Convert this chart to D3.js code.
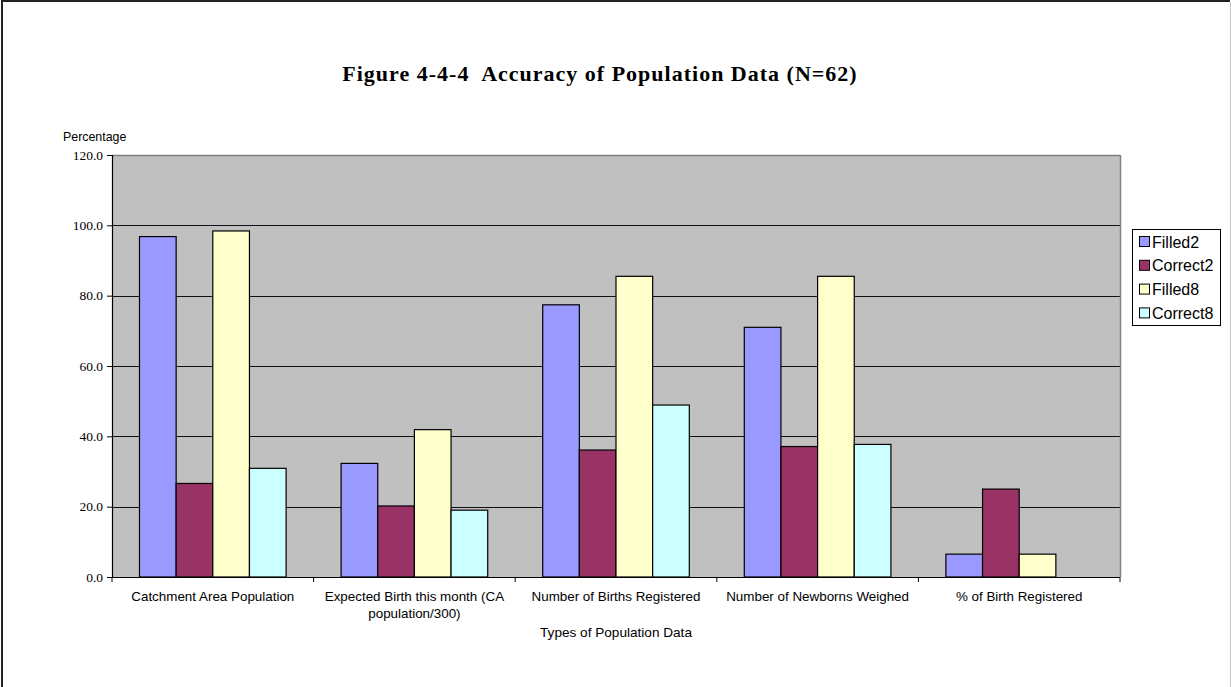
<!DOCTYPE html>
<html>
<head>
<meta charset="utf-8">
<script src="https://cdn.jsdelivr.net/npm/d3@7"></script>
<style>
  html, body { margin: 0; padding: 0; background: #fff; }
  svg { display: block; }
</style>
</head>
<body>
<svg id="chart" width="1231" height="687"></svg>
<script>
// Population data types and the share (%) of facilities reporting each
const categories = [
  ["Catchment Area Population"],
  ["Expected Birth this month (CA", "population/300)"],
  ["Number of Births Registered"],
  ["Number of Newborns Weighed"],
  ["% of Birth Registered"]
];
const seriesNames = ["Filled2", "Correct2", "Filled8", "Correct8"];
const filled2  = [96.8, 32.3, 77.4, 71.0, 6.5];
const correct2 = [26.6, 20.2, 36.1, 37.1, 25.0];
const filled8  = [98.4, 41.9, 85.5, 85.5, 6.5];
const correct8 = [30.9, 19.0, 48.9, 37.7, 0.0];
const seriesColors = ["#9999FF", "#993366", "#FFFFCC", "#CCFFFF"];
const yTicks = [0, 20, 40, 60, 80, 100, 120];

const values = [filled2, correct2, filled8, correct8];
const svg = d3.select("#chart");

// frame around the whole chart
svg.append("line").attr("x1", 2).attr("y1", 0).attr("x2", 2).attr("y2", 687)
  .attr("stroke", "#222").attr("stroke-width", 2);
svg.append("line").attr("x1", 1).attr("y1", 1).attr("x2", 1230).attr("y2", 1)
  .attr("stroke", "#222").attr("stroke-width", 2);
svg.append("line").attr("x1", 1230.5).attr("y1", 2).attr("x2", 1230.5).attr("y2", 687)
  .attr("stroke", "#c8c8c8").attr("stroke-width", 1);

const plot = { left: 112, right: 1120, top: 155, bottom: 577 };

const x0 = d3.scaleBand()
  .domain(d3.range(categories.length))
  .range([plot.left, plot.right]);
const bandW = x0.bandwidth();
// four bars per group with a 150% gap split on both sides
const barW = bandW / (seriesNames.length + 1.5);
const x1 = d3.scaleBand()
  .domain(d3.range(seriesNames.length))
  .range([barW * 0.75, bandW - barW * 0.75])
  .padding(0);

const y = d3.scaleLinear().domain([0, 120]).range([plot.bottom, plot.top]);

// plot background
svg.append("rect")
  .attr("x", plot.left).attr("y", plot.top)
  .attr("width", plot.right - plot.left).attr("height", plot.bottom - plot.top)
  .attr("fill", "#C0C0C0");

// gridlines
svg.append("g").selectAll("line")
  .data(yTicks.filter(t => t > 0 && t < 120))
  .join("line")
  .attr("x1", plot.left).attr("x2", plot.right)
  .attr("y1", d => Math.round(y(d)) + 0.5).attr("y2", d => Math.round(y(d)) + 0.5)
  .attr("stroke", "#111").attr("stroke-width", 1);

// top and right edges of plot area
svg.append("line").attr("x1", plot.left).attr("x2", plot.right)
  .attr("y1", plot.top + 0.5).attr("y2", plot.top + 0.5)
  .attr("stroke", "#808080").attr("stroke-width", 1.5);
svg.append("line").attr("x1", plot.right + 0.5).attr("x2", plot.right + 0.5)
  .attr("y1", plot.top).attr("y2", plot.bottom)
  .attr("stroke", "#808080").attr("stroke-width", 1.5);

// bars
const groups = svg.append("g").selectAll("g")
  .data(categories.map((c, i) => i))
  .join("g")
  .attr("transform", i => `translate(${x0(i)},0)`);

groups.selectAll("rect")
  .data(i => values.map((s, k) => ({ k, v: s[i] })).filter(d => d.v > 0))
  .join("rect")
  .attr("x", d => x1(d.k))
  .attr("y", d => y(d.v))
  .attr("width", x1.bandwidth())
  .attr("height", d => y(0) - y(d.v))
  .attr("fill", d => seriesColors[d.k])
  .attr("stroke", "#000")
  .attr("stroke-width", 1.2);

// y axis
const yAxis = d3.axisLeft(y).tickValues(yTicks).tickSize(5).tickFormat(d3.format(".1f"));
const gy = svg.append("g").attr("transform", `translate(${plot.left},0)`).call(yAxis);
gy.select(".domain").attr("stroke", "#000").attr("stroke-width", 1.2);
gy.selectAll(".tick line").attr("stroke", "#000");
gy.selectAll(".tick text")
  .attr("font-family", "'Liberation Serif', 'Times New Roman', serif")
  .attr("font-size", 13.5).attr("fill", "#000").attr("x", -9);

// x axis with ticks at category boundaries
const gx = svg.append("g").attr("transform", `translate(0,${plot.bottom})`);
gx.append("line").attr("x1", plot.left - 5).attr("x2", plot.right)
  .attr("y1", 0.5).attr("y2", 0.5).attr("stroke", "#000").attr("stroke-width", 1.2);
gx.selectAll("line.tk")
  .data(d3.range(categories.length + 1))
  .join("line").attr("class", "tk")
  .attr("x1", i => plot.left + i * bandW).attr("x2", i => plot.left + i * bandW)
  .attr("y1", 0).attr("y2", 5).attr("stroke", "#000");

const catLabels = svg.append("g").selectAll("text")
  .data(categories.map((c, i) => ({ c, i })))
  .join("text")
  .attr("x", d => x0(d.i) + bandW / 2)
  .attr("y", 601)
  .attr("text-anchor", "middle")
  .attr("font-family", "'Liberation Sans', Arial, sans-serif")
  .attr("font-size", 13.4)
  .attr("fill", "#000");
catLabels.selectAll("tspan")
  .data(d => d.c.map(line => ({ line, x: x0(d.i) + bandW / 2 })))
  .join("tspan")
  .attr("x", d => d.x)
  .attr("dy", (d, j) => j === 0 ? 0 : 16.5)
  .text(d => d.line);

// axis titles
svg.append("text")
  .attr("x", (plot.left + plot.right) / 2).attr("y", 637)
  .attr("text-anchor", "middle")
  .attr("font-family", "'Liberation Sans', Arial, sans-serif")
  .attr("font-size", 13.6)
  .text("Types of Population Data");

svg.append("text")
  .attr("x", 63).attr("y", 141)
  .attr("font-family", "'Liberation Sans', Arial, sans-serif")
  .attr("font-size", 12.4)
  .text("Percentage");

// chart title
svg.append("text")
  .attr("x", 600).attr("y", 81)
  .attr("text-anchor", "middle")
  .attr("font-family", "'Liberation Serif', 'Times New Roman', serif")
  .attr("font-size", 22).attr("font-weight", "bold")
  .attr("letter-spacing", 1)
  .attr("xml:space", "preserve")
  .text("Figure 4-4-4  Accuracy of Population Data (N=62)");

// legend
const legend = svg.append("g");
legend.append("rect")
  .attr("x", 1132.5).attr("y", 229.5).attr("width", 88).attr("height", 96)
  .attr("fill", "#fff").attr("stroke", "#000").attr("stroke-width", 1);
const items = legend.selectAll("g.item")
  .data(seriesNames.map((n, k) => ({ n, k })))
  .join("g").attr("class", "item")
  .attr("transform", d => `translate(1139,${242 + d.k * 23.8})`);
items.append("rect")
  .attr("x", 0.5).attr("y", -5.5).attr("width", 10).attr("height", 10)
  .attr("fill", d => seriesColors[d.k]).attr("stroke", "#000").attr("stroke-width", 1);
items.append("text")
  .attr("x", 13).attr("y", 5.5)
  .attr("font-family", "'Liberation Sans', Arial, sans-serif")
  .attr("font-size", 16)
  .text(d => d.n);
</script>
</body>
</html>
